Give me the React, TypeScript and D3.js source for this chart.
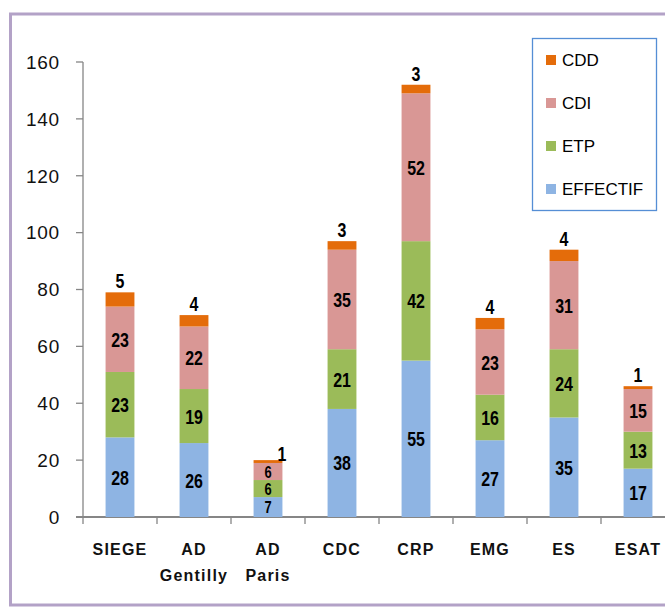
import React from "react";
import * as d3 from "d3";

// categories and series
const categories = ["SIEGE", "AD Gentilly", "AD Paris", "CDC", "CRP", "EMG", "ES", "ESAT"];
const effectif = [28, 26, 7, 38, 55, 27, 35, 17];
const etp = [23, 19, 6, 21, 42, 16, 24, 13];
const cdi = [23, 22, 6, 35, 52, 23, 31, 15];
const cdd = [5, 4, 1, 3, 3, 4, 4, 1];
const yTicks = [0, 20, 40, 60, 80, 100, 120, 140, 160];

const seriesNames = ["EFFECTIF", "ETP", "CDI", "CDD"];
const seriesValues = [effectif, etp, cdi, cdd];
const colors: Record<string, string> = {
  EFFECTIF: "#8EB4E3",
  ETP: "#9BBB59",
  CDI: "#D99795",
  CDD: "#E46C0A",
};

const width = 665;
const height = 608;
const margin = { top: 62, left: 83, bottom: 91 };
const step = 74;

const App: React.FC = () => {
  const rows = categories.map((c, i) => {
    const r: any = { cat: c };
    seriesNames.forEach((s, k) => (r[s] = seriesValues[k][i]));
    return r;
  });
  const stacked = d3.stack().keys(seriesNames)(rows);

  const x = d3
    .scaleBand()
    .domain(categories)
    .range([margin.left, margin.left + step * categories.length])
    .paddingInner(0.61)
    .paddingOuter(0.305);
  const y = d3.scaleLinear().domain([0, 160]).range([height - margin.bottom, margin.top]);

  const bw = x.bandwidth();
  const y0 = y(0);
  const axisColor = "#868686";
  const font = "'Liberation Sans', Arial, sans-serif";

  return (
    <svg
      width={width}
      height={height}
      style={{ position: "absolute", left: 0, top: 0, background: "#fff" }}
    >
      {/* outer frame */}
      <rect x={10.5} y={14} width={width + 10} height={591} fill="none" stroke="#B3A2C7" strokeWidth={3} />

      {/* y axis */}
      <line x1={margin.left} x2={margin.left} y1={y(160)} y2={y0} stroke={axisColor} strokeWidth={1.3} />
      {yTicks.map((t) => (
        <g key={t}>
          <line x1={margin.left - 7} x2={margin.left} y1={y(t)} y2={y(t)} stroke={axisColor} strokeWidth={1.3} />
          <text x={60} y={y(t)} dy="0.36em" textAnchor="end" fontFamily={font} fontSize={19} letterSpacing={0.8} fill="#111">
            {t}
          </text>
        </g>
      ))}

      {/* x axis */}
      <line x1={margin.left - 7} x2={width} y1={y0} y2={y0} stroke={axisColor} strokeWidth={2} />
      {categories.map((c) => {
        const bx = (x(c) as number) + bw / 2 - step / 2;
        return <line key={c} x1={bx} x2={bx} y1={y0} y2={y0 + 7} stroke={axisColor} strokeWidth={1.3} />;
      })}
      {categories.map((c) => {
        const cx = (x(c) as number) + bw / 2;
        const parts = c.split(" ");
        return (
          <text
            key={c}
            x={cx}
            y={555}
            textAnchor="middle"
            fontFamily={font}
            fontWeight="bold"
            fontSize={16}
            letterSpacing={1.2}
            fill="#111"
          >
            {parts.map((p, k) => (
              <tspan key={k} x={cx} dy={k === 0 ? 0 : 26}>
                {p}
              </tspan>
            ))}
          </text>
        );
      })}

      {/* stacked bars */}
      {stacked.map((layer) => (
        <g key={layer.key} fill={colors[layer.key]}>
          {layer.map((d, i) => (
            <rect
              key={categories[i]}
              x={x(categories[i])}
              y={y(d[1])}
              width={bw}
              height={y(d[0]) - y(d[1])}
            />
          ))}
        </g>
      ))}

      {/* value labels (condensed, like the original narrow font) */}
      {stacked.map((layer) =>
        layer.map((d, i) => {
          const cat = categories[i];
          const cx = (x(cat) as number) + bw / 2;
          const v = d[1] - d[0];
          const top = layer.key === "CDD";
          const small = v < 10 && !top;
          let lx = cx;
          let ly = top ? y(d[1]) - 4 : (y(d[0]) + y(d[1])) / 2 + (small ? 6 : 7.5);
          if (top && cat === "AD Paris") {
            lx = cx + 14;
            ly = y(d[1]) + 1;
          }
          return (
            <text
              key={layer.key + cat}
              transform={`translate(${lx},${ly}) scale(0.76,1)`}
              textAnchor="middle"
              fontFamily={font}
              fontWeight="bold"
              fontSize={small ? 17 : 21}
              fill="#000"
            >
              {v}
            </text>
          );
        })
      )}

      {/* legend */}
      <rect x={532.5} y={38.5} width={124} height={172} fill="#fff" stroke="#558ED5" strokeWidth={1.3} />
      {[...seriesNames].reverse().map((s, k) => (
        <g key={s} transform={`translate(546, ${60 + k * 43})`}>
          <rect x={0} y={-5} width={10} height={10} fill={colors[s]} />
          <text x={16} y={0} dy="0.36em" fontFamily={font} fontSize={17} fill="#000">
            {s}
          </text>
        </g>
      ))}
    </svg>
  );
};

export default App;
